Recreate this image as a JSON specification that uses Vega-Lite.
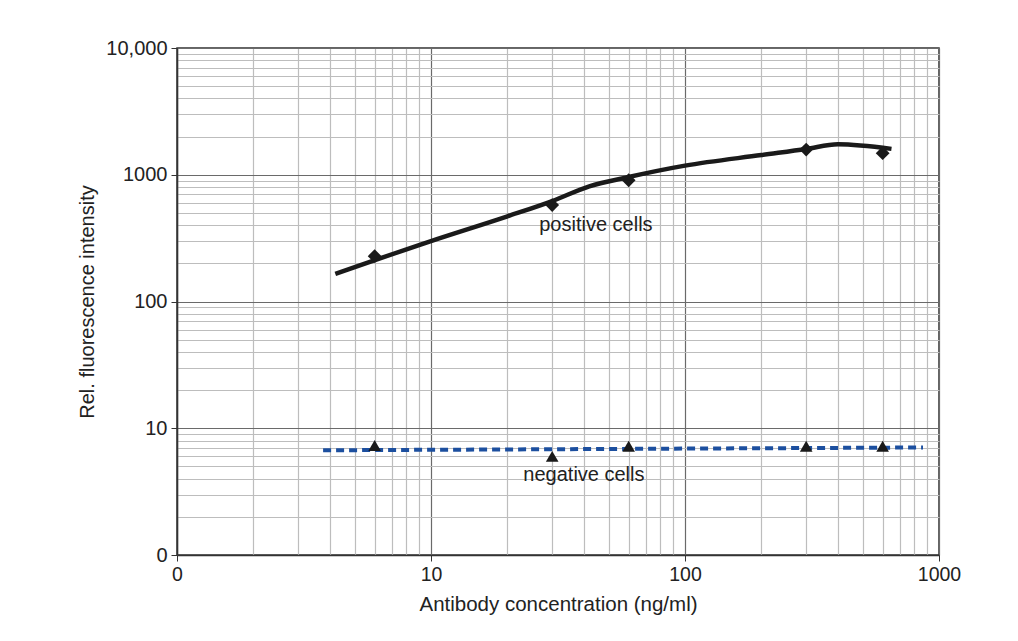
{
  "$schema": "https://vega.github.io/schema/vega-lite/v6.json",
  "autosize": {"type": "none"},
  "padding": {"left": 177, "top": 48, "right": 79, "bottom": 86},
  "width": 762,
  "height": 507,
  "background": "white",
  "config": {
    "view": {"stroke": "#333333", "strokeWidth": 1.5},
    "font": "Liberation Sans"
  },
  "layer": [
    {
      "data": {"values": [
        {"conc": 4.2, "intensity": 165},
        {"conc": 10, "intensity": 300},
        {"conc": 20, "intensity": 470},
        {"conc": 30, "intensity": 620},
        {"conc": 42, "intensity": 810},
        {"conc": 60, "intensity": 960},
        {"conc": 100, "intensity": 1180},
        {"conc": 200, "intensity": 1430},
        {"conc": 300, "intensity": 1595},
        {"conc": 400, "intensity": 1740},
        {"conc": 650, "intensity": 1600}
      ]},
      "mark": {"type": "line", "color": "#1a1a1a", "strokeWidth": 4.5, "interpolate": "monotone", "clip": true},
      "encoding": {
        "x": {
          "field": "conc", "type": "quantitative",
          "scale": {"type": "log", "domain": [1, 1000], "nice": false},
          "axis": {
            "values": [1,2,3,4,5,6,7,8,9,10,20,30,40,50,60,70,80,90,100,200,300,400,500,600,700,800,900,1000],
            "labelExpr": "indexof([1,10,100,1000], datum.value) >= 0 ? (datum.value == 1 ? '0' : format(datum.value, 'd')) : ''",
            "labelOverlap": false,
            "labelFontSize": 19.5,
            "labelColor": "#222222",
            "labelPadding": 4,
            "labelFlush": false,
            "grid": true,
            "gridColor": {"condition": {"test": "indexof([1,10,100,1000], datum.value) >= 0", "value": "#6a6a6a"}, "value": "#bdbdbd"},
            "gridWidth": 1.2,
            "tickSize": {"condition": {"test": "indexof([1,10,100,1000], datum.value) >= 0", "value": 6}, "value": 0},
            "tickColor": "#333333",
            "domainColor": "#333333",
            "domainWidth": 1.5,
            "title": "Antibody concentration (ng/ml)",
            "titleFontSize": 20.5,
            "titleFontWeight": "normal",
            "titleColor": "#222222",
            "titlePadding": 11
          }
        },
        "y": {
          "field": "intensity", "type": "quantitative",
          "scale": {"type": "log", "domain": [1, 10000], "nice": false},
          "axis": {
            "values": [1,2,3,4,5,6,7,8,9,10,20,30,40,50,60,70,80,90,100,200,300,400,500,600,700,800,900,1000,2000,3000,4000,5000,6000,7000,8000,9000,10000],
            "labelExpr": "indexof([1,10,100,1000,10000], datum.value) >= 0 ? (datum.value == 1 ? '0' : datum.value == 10000 ? '10,000' : format(datum.value, 'd')) : ''",
            "labelOverlap": false,
            "labelFontSize": 20,
            "labelColor": "#222222",
            "labelPadding": 4,
            "labelFlush": false,
            "grid": true,
            "gridColor": {"condition": {"test": "indexof([1,10,100,1000,10000], datum.value) >= 0", "value": "#6a6a6a"}, "value": "#bdbdbd"},
            "gridWidth": 1.2,
            "tickSize": {"condition": {"test": "indexof([1,10,100,1000,10000], datum.value) >= 0", "value": 6}, "value": 0},
            "tickColor": "#333333",
            "domainColor": "#333333",
            "domainWidth": 1.5,
            "title": "Rel. fluorescence intensity",
            "titleFontSize": 20,
            "titleFontWeight": "normal",
            "titleColor": "#222222",
            "titlePadding": 8
          }
        }
      }
    },
    {
      "data": {"values": [
        {"conc": 3.76, "intensity": 6.7},
        {"conc": 865, "intensity": 7.05}
      ]},
      "mark": {"type": "line", "color": "#1c4f9f", "strokeWidth": 4, "strokeDash": [8, 5], "clip": true},
      "encoding": {
        "x": {"field": "conc", "type": "quantitative"},
        "y": {"field": "intensity", "type": "quantitative"}
      }
    },
    {
      "data": {"values": [
        {"conc": 6, "intensity": 228},
        {"conc": 30, "intensity": 577},
        {"conc": 60, "intensity": 905},
        {"conc": 300, "intensity": 1580},
        {"conc": 600, "intensity": 1480}
      ]},
      "mark": {"type": "point", "shape": "diamond", "filled": true, "color": "#1a1a1a", "opacity": 1, "size": 190},
      "encoding": {
        "x": {"field": "conc", "type": "quantitative"},
        "y": {"field": "intensity", "type": "quantitative"}
      }
    },
    {
      "data": {"values": [
        {"conc": 6, "intensity": 7.3},
        {"conc": 30, "intensity": 6.0},
        {"conc": 60, "intensity": 7.2},
        {"conc": 300, "intensity": 7.2},
        {"conc": 600, "intensity": 7.2}
      ]},
      "mark": {"type": "point", "shape": "triangle-up", "filled": true, "color": "#1a1a1a", "opacity": 1, "size": 160},
      "encoding": {
        "x": {"field": "conc", "type": "quantitative"},
        "y": {"field": "intensity", "type": "quantitative"}
      }
    },
    {
      "data": {"values": [
        {"conc": 44.6, "intensity": 401, "label": "positive cells"},
        {"conc": 40, "intensity": 4.31, "label": "negative cells"}
      ]},
      "mark": {"type": "text", "fontSize": 20, "color": "#222222", "align": "center", "baseline": "middle"},
      "encoding": {
        "x": {"field": "conc", "type": "quantitative"},
        "y": {"field": "intensity", "type": "quantitative"},
        "text": {"field": "label"}
      }
    }
  ]
}
